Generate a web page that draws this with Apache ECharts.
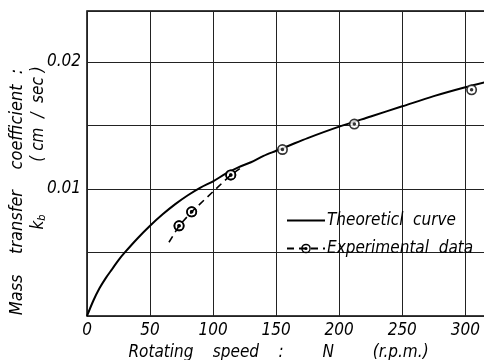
<!DOCTYPE html>
<html>
<head>
<meta charset="utf-8">
<script src="https://cdn.jsdelivr.net/npm/echarts@6/dist/echarts.min.js"></script>
<style>
html,body{margin:0;padding:0;background:#fff;}
#chart{width:484px;height:360px;}
</style>
</head>
<body>
<div id="chart"></div>
<script>
// Theoretical curve (N in r.p.m., k_b in cm/sec)
var theoN = [0, 5, 10, 15, 20, 25, 30, 40, 50, 60, 70, 80, 90, 100, 110, 120, 130, 140, 150, 160, 175, 200, 225, 250, 275, 300, 320];
var theoK = [0, 0.0012, 0.0022, 0.0030, 0.0037, 0.0044, 0.0050, 0.0061, 0.0071, 0.0080, 0.0088, 0.0095, 0.0101, 0.0106, 0.0112, 0.0117, 0.0121, 0.0126, 0.0130, 0.0134, 0.0140, 0.0149, 0.0157, 0.0165, 0.0173, 0.0180, 0.0185];
// Experimental data points
var expN = [73, 83, 114, 155, 212, 305];
var expK = [0.0071, 0.0082, 0.0111, 0.0131, 0.0151, 0.0178];
// Dashed experimental trend (low speed part)
var dashN = [65, 73, 83, 114, 124];
var dashK = [0.0058, 0.0071, 0.0082, 0.0111, 0.0118];
// Tick labels
var xTicks = [0, 50, 100, 150, 200, 250, 300];
var yTicks = [0.01, 0.02];

var FONT = "'Liberation Sans Narrow', 'DejaVu Sans Condensed', sans-serif";
var ringDot = 'path://M0 -10A10 10 0 1 1 0 10A10 10 0 1 1 0 -10Z M0 -7A7 7 0 1 0 0 7A7 7 0 1 0 0 -7Z M0 -3.2A3.2 3.2 0 1 1 0 3.2A3.2 3.2 0 1 1 0 -3.2Z';

function zip(a, b) { return a.map(function (v, i) { return [v, b[i]]; }); }

var dashData = zip(dashN, dashK).map(function (p) {
  var isPt = expN.indexOf(p[0]) >= 0;
  return isPt ? { value: p } : { value: p, symbol: 'none' };
});

var chart = echarts.init(document.getElementById('chart'), null, { renderer: 'canvas' });
chart.setOption({
  animation: false,
  backgroundColor: '#fff',
  grid: { left: 87, top: 11, right: -4, bottom: 44, containLabel: false, outerBoundsMode: 'none',
    show: true, borderColor: '#000', borderWidth: 1.5, backgroundColor: 'transparent' },
  xAxis: {
    type: 'value', min: 0, max: 318, interval: 50,
    axisLine: { show: false }, axisTick: { show: false },
    splitLine: { show: true, lineStyle: { color: '#222', width: 1 } },
    axisLabel: {
      margin: 6, fontFamily: FONT, fontStyle: 'italic', fontSize: 17, color: '#000',
      formatter: function (v) { return xTicks.indexOf(Math.round(v)) >= 0 && Math.abs(v - Math.round(v)) < 1e-6 ? String(Math.round(v)) : ''; }
    },
    name: 'Rotating    speed    :        N        (r.p.m.)',
    nameLocation: 'middle', nameGap: 28,
    nameTextStyle: { fontFamily: FONT, fontStyle: 'italic', fontSize: 17, color: '#000', padding: [0, 18, 0, 0] }
  },
  yAxis: {
    type: 'value', min: 0, max: 0.024, interval: 0.005,
    axisLine: { show: false }, axisTick: { show: false },
    splitLine: { show: true, lineStyle: { color: '#222', width: 1 } },
    axisLabel: {
      margin: 6, fontFamily: FONT, fontStyle: 'italic', fontSize: 17, color: '#000',
      formatter: function (v) {
        for (var i = 0; i < yTicks.length; i++) { if (Math.abs(v - yTicks[i]) < 1e-9) return yTicks[i].toFixed(2); }
        return '';
      }
    }
  },
  legend: {
    orient: 'vertical', left: 281, top: 207, itemWidth: 38, itemHeight: 12, itemGap: 11,
    data: [
      { name: 'Theoreticl curve', itemStyle: { opacity: 0 } },
      { name: 'Experimental data' }
    ],
    formatter: function (n) { return n.replace(' ', '  '); },
    textStyle: { fontFamily: FONT, fontStyle: 'italic', fontSize: 17, color: '#000', padding: [0, 0, 0, -3] },
    backgroundColor: 'transparent'
  },
  series: [
    {
      name: 'Theoreticl curve', type: 'line', data: zip(theoN, theoK),
      smooth: 0.3, showSymbol: false, symbol: 'none', symbolSize: 0,
      lineStyle: { color: '#000', width: 2 }, itemStyle: { color: '#000' }, z: 2
    },
    {
      name: 'Experimental data', type: 'line', data: dashData,
      symbol: ringDot, symbolSize: 11, showSymbol: true,
      lineStyle: { color: '#000', width: 1.6, type: [7, 5] }, itemStyle: { color: '#000' }, z: 5
    },
    {
      name: 'bg', type: 'scatter', data: zip(expN, expK), symbol: 'circle', symbolSize: 10,
      itemStyle: { color: '#fff' }, z: 3, silent: true
    },
    {
      name: 'pts', type: 'scatter', data: zip(expN, expK), symbol: ringDot, symbolSize: 11,
      itemStyle: { color: '#000' }, z: 6, silent: true
    }
  ],
  graphic: [
    { type: 'text', x: 17, y: 192, rotation: Math.PI / 2,
      style: { text: 'Mass    transfer    coefficient  :', fontFamily: FONT, fontStyle: 'italic', fontSize: 18, fill: '#000', textAlign: 'center', textVerticalAlign: 'middle' } },
    { type: 'text', x: 39, y: 114, rotation: Math.PI / 2,
      style: { text: '( cm  /  sec )', fontFamily: FONT, fontStyle: 'italic', fontSize: 17, fill: '#000', textAlign: 'center', textVerticalAlign: 'middle' } },
    { type: 'text', x: 39, y: 222, rotation: Math.PI / 2,
      style: { text: 'k{s|b}', fontFamily: FONT, fontStyle: 'italic', fontSize: 17, fill: '#000', textAlign: 'center', textVerticalAlign: 'middle',
        rich: { s: { fontFamily: FONT, fontStyle: 'italic', fontSize: 11, fill: '#000', verticalAlign: 'bottom', padding: [6, 0, 0, 0] } } } }
  ]
});
</script>
</body>
</html>
